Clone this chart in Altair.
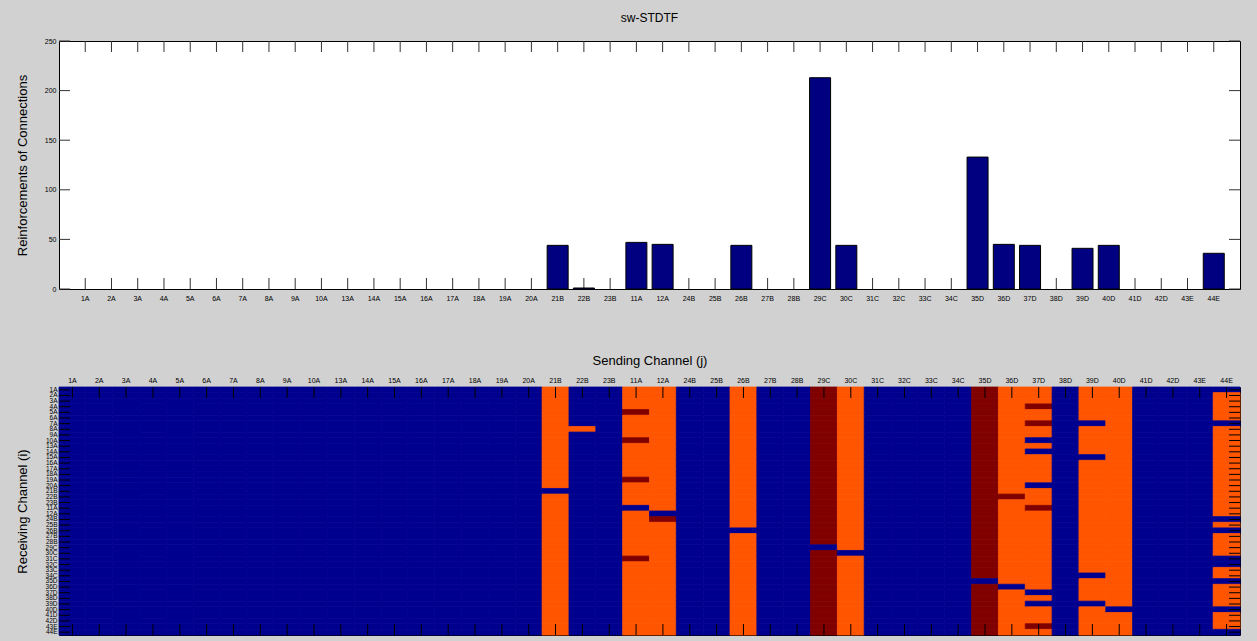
import altair as alt
import pandas as pd

# ---------------- data ----------------
channels = ["1A", "2A", "3A", "4A", "5A", "6A", "7A", "8A", "9A", "10A", "13A", "14A",
            "15A", "16A", "17A", "18A", "19A", "20A", "21B", "22B", "23B", "11A", "12A",
            "24B", "25B", "26B", "27B", "28B", "29C", "30C", "31C", "32C", "33C", "34C",
            "35D", "36D", "37D", "38D", "39D", "40D", "41D", "42D", "43E", "44E"]

reinforcements = [0, 0, 0, 0, 0, 0, 0, 0, 0, 0, 0, 0, 0, 0, 0, 0, 0, 0,
                  44, 1, 0, 47, 45, 0, 0, 44, 0, 0, 213, 44, 0, 0, 0, 0,
                  133, 45, 44, 0, 41, 44, 0, 0, 0, 36]

y_tick_values = [0, 50, 100, 150, 200, 250]

# connection state per sending channel (column), one digit per receiving channel (row)
# 0 = no connection, 1 = connection, 2 = strong connection
state_by_sender = {
    "1A":  "0000000000 0000000000 0000000000 0000000000 0000",
    "2A":  "0000000000 0000000000 0000000000 0000000000 0000",
    "3A":  "0000000000 0000000000 0000000000 0000000000 0000",
    "4A":  "0000000000 0000000000 0000000000 0000000000 0000",
    "5A":  "0000000000 0000000000 0000000000 0000000000 0000",
    "6A":  "0000000000 0000000000 0000000000 0000000000 0000",
    "7A":  "0000000000 0000000000 0000000000 0000000000 0000",
    "8A":  "0000000000 0000000000 0000000000 0000000000 0000",
    "9A":  "0000000000 0000000000 0000000000 0000000000 0000",
    "10A": "0000000000 0000000000 0000000000 0000000000 0000",
    "13A": "0000000000 0000000000 0000000000 0000000000 0000",
    "14A": "0000000000 0000000000 0000000000 0000000000 0000",
    "15A": "0000000000 0000000000 0000000000 0000000000 0000",
    "16A": "0000000000 0000000000 0000000000 0000000000 0000",
    "17A": "0000000000 0000000000 0000000000 0000000000 0000",
    "18A": "0000000000 0000000000 0000000000 0000000000 0000",
    "19A": "0000000000 0000000000 0000000000 0000000000 0000",
    "20A": "0000000000 0000000000 0000000000 0000000000 0000",
    "21B": "1111111111 1111111101 1111111111 1111111111 1111",
    "22B": "0000000100 0000000000 0000000000 0000000000 0000",
    "23B": "0000000000 0000000000 0000000000 0000000000 0000",
    "11A": "1111211112 1111112111 1011111111 2111111111 1111",
    "12A": "1111111111 1111111111 1102111111 1111111111 1111",
    "24B": "0000000000 0000000000 0000000000 0000000000 0000",
    "25B": "0000000000 0000000000 0000000000 0000000000 0000",
    "26B": "1111111111 1111111111 1111101111 1111111111 1111",
    "27B": "0000000000 0000000000 0000000000 0000000000 0000",
    "28B": "0000000000 0000000000 0000000000 0000000000 0000",
    "29C": "2222222222 2222222222 2222222202 2222222222 2222",
    "30C": "1111111111 1111111111 1111111110 1111111111 1111",
    "31C": "0000000000 0000000000 0000000000 0000000000 0000",
    "32C": "0000000000 0000000000 0000000000 0000000000 0000",
    "33C": "0000000000 0000000000 0000000000 0000000000 0000",
    "34C": "0000000000 0000000000 0000000000 0000000000 0000",
    "35D": "2222222222 2222222222 2222222222 2222022222 2222",
    "36D": "1111111111 1111111112 1111111111 1111101111 1111",
    "37D": "1112112110 1011111011 1211111111 1111110101 1121",
    "38D": "0000000000 0000000000 0000000000 0000000000 0000",
    "39D": "1111110111 1101111111 1111111111 1110111101 1111",
    "40D": "1111111111 1111111111 1111111111 1111111110 1111",
    "41D": "0000000000 0000000000 0000000000 0000000000 0000",
    "42D": "0000000000 0000000000 0000000000 0000000000 0000",
    "43E": "0000000000 0000000000 0000000000 0000000000 0000",
    "44E": "0111110111 1111111111 1110101111 0011011110 1110",
}

state_codes = ["0", "1", "2"]
state_colors = ["#00008f", "#ff5500", "#800000"]

# ---------------- tables ----------------
bars_df = pd.DataFrame({"channel": channels, "value": reinforcements})
yticks_df = pd.DataFrame({"value": y_tick_values})

rows = []
for sender in channels:
    s = state_by_sender[sender].replace(" ", "")
    assert len(s) == len(channels)
    for i, receiver in enumerate(channels):
        rows.append({"sender": sender, "receiver": receiver, "state": s[i]})
heat_df = pd.DataFrame(rows)
senders_df = pd.DataFrame({"sender": channels})
receivers_df = pd.DataFrame({"receiver": channels})

W = 1181
H_TOP = 248
H_BOT = 248
FONT = "Liberation Sans"
TICK = 11

# ---------------- top: bar chart ----------------
x_bar_scale = alt.Scale(domain=channels, paddingInner=0.2, paddingOuter=0.6)
y_bar_scale = alt.Scale(domain=[0, 250], nice=False)

x_bar_axis = alt.Axis(title=None, labelAngle=0, labelFontSize=7, labelPadding=5,
                      ticks=False, tickSize=0, domain=False, labelOverlap=False,
                      labelColor="#000000", labelFont=FONT)
y_bar_axis = alt.Axis(title="Reinforcements of Connections", values=y_tick_values,
                      labelFontSize=7, labelPadding=3, ticks=False, tickSize=0,
                      domain=False, grid=False, minExtent=20, maxExtent=20,
                      titlePadding=10, titleFontSize=13, titleFontWeight="normal",
                      titleFont=FONT, labelFont=FONT, labelColor="#000000",
                      titleColor="#000000")

xb = alt.X("channel:N", sort=channels, scale=x_bar_scale, axis=x_bar_axis)
yb = alt.Y("value:Q", scale=y_bar_scale, axis=y_bar_axis)

bar_ticks_top = alt.Chart(bars_df).mark_rule(color="#333333", strokeWidth=1).encode(
    x=xb, y=alt.value(0), y2=alt.value(TICK))
bar_ticks_bottom = alt.Chart(bars_df).mark_rule(color="#333333", strokeWidth=1).encode(
    x=xb, y=alt.value(H_TOP - TICK), y2=alt.value(H_TOP))
bar_ticks_left = alt.Chart(yticks_df).mark_rule(color="#333333", strokeWidth=1).encode(
    y=yb, x=alt.value(0), x2=alt.value(TICK))
bar_ticks_right = alt.Chart(yticks_df).mark_rule(color="#333333", strokeWidth=1).encode(
    y=yb, x=alt.value(W - TICK), x2=alt.value(W))
bars = alt.Chart(bars_df).transform_filter("datum.value > 0").mark_bar(
    color="#000080", stroke="#000000", strokeWidth=1).encode(x=xb, y=yb)

top = alt.layer(bar_ticks_top, bar_ticks_bottom, bar_ticks_left, bar_ticks_right, bars).properties(
    width=W, height=H_TOP,
    title=alt.TitleParams("sw-STDTF", fontSize=12, fontWeight="normal", font=FONT,
                          color="#000000", offset=12, anchor="middle"))

# ---------------- bottom: connection matrix ----------------
x_heat_scale = alt.Scale(domain=channels, paddingInner=0, paddingOuter=0)
y_heat_scale = alt.Scale(domain=channels, paddingInner=0, paddingOuter=0)

x_heat_axis = alt.Axis(title="Sending Channel (j)", orient="top", labelAngle=0,
                       labelFontSize=7, labelPadding=4, ticks=False, tickSize=0,
                       domain=False, labelOverlap=False, titlePadding=9,
                       titleFontSize=13, titleFontWeight="normal", titleFont=FONT,
                       labelFont=FONT, labelColor="#000000", titleColor="#000000")
y_heat_axis = alt.Axis(title="Receiving Channel (i)", labelFontSize=6.5, labelPadding=2,
                       ticks=False, tickSize=0, domain=False, labelOverlap=False,
                       minExtent=20, maxExtent=20, titlePadding=10, titleFontSize=13,
                       titleFontWeight="normal", titleFont=FONT, labelFont=FONT,
                       labelColor="#000000", titleColor="#000000")

xh = alt.X("sender:N", sort=channels, scale=x_heat_scale, axis=x_heat_axis)
yh = alt.Y("receiver:N", sort=channels, scale=y_heat_scale, axis=y_heat_axis)

state_scale = alt.Scale(domain=state_codes, range=state_colors)
cells = alt.Chart(heat_df).mark_rect(strokeWidth=0.8).encode(
    x=xh, y=yh,
    color=alt.Color("state:N", scale=state_scale, legend=None),
    stroke=alt.Stroke("state:N", scale=state_scale, legend=None))
heat_ticks_top = alt.Chart(senders_df).mark_rule(color="#000000", strokeWidth=1).encode(
    x=xh, y=alt.value(0), y2=alt.value(TICK))
heat_ticks_bottom = alt.Chart(senders_df).mark_rule(color="#000000", strokeWidth=1).encode(
    x=xh, y=alt.value(H_BOT - TICK), y2=alt.value(H_BOT))
heat_ticks_left = alt.Chart(receivers_df).mark_rule(color="#000000", strokeWidth=1).encode(
    y=yh, x=alt.value(0), x2=alt.value(TICK))
heat_ticks_right = alt.Chart(receivers_df).mark_rule(color="#000000", strokeWidth=1).encode(
    y=yh, x=alt.value(W - TICK), x2=alt.value(W))

bottom = alt.layer(cells, heat_ticks_top, heat_ticks_bottom, heat_ticks_left,
                   heat_ticks_right).properties(width=W, height=H_BOT)

chart = alt.vconcat(top, bottom, spacing=51).properties(
    background="#d1d1d1",
    padding={"left": 15, "top": 11, "right": 16, "bottom": 6},
).configure_view(
    stroke="#000000", strokeWidth=1, fill="#ffffff"
)

chart.save("out.html", embed_options={"renderer": "svg", "actions": False})
